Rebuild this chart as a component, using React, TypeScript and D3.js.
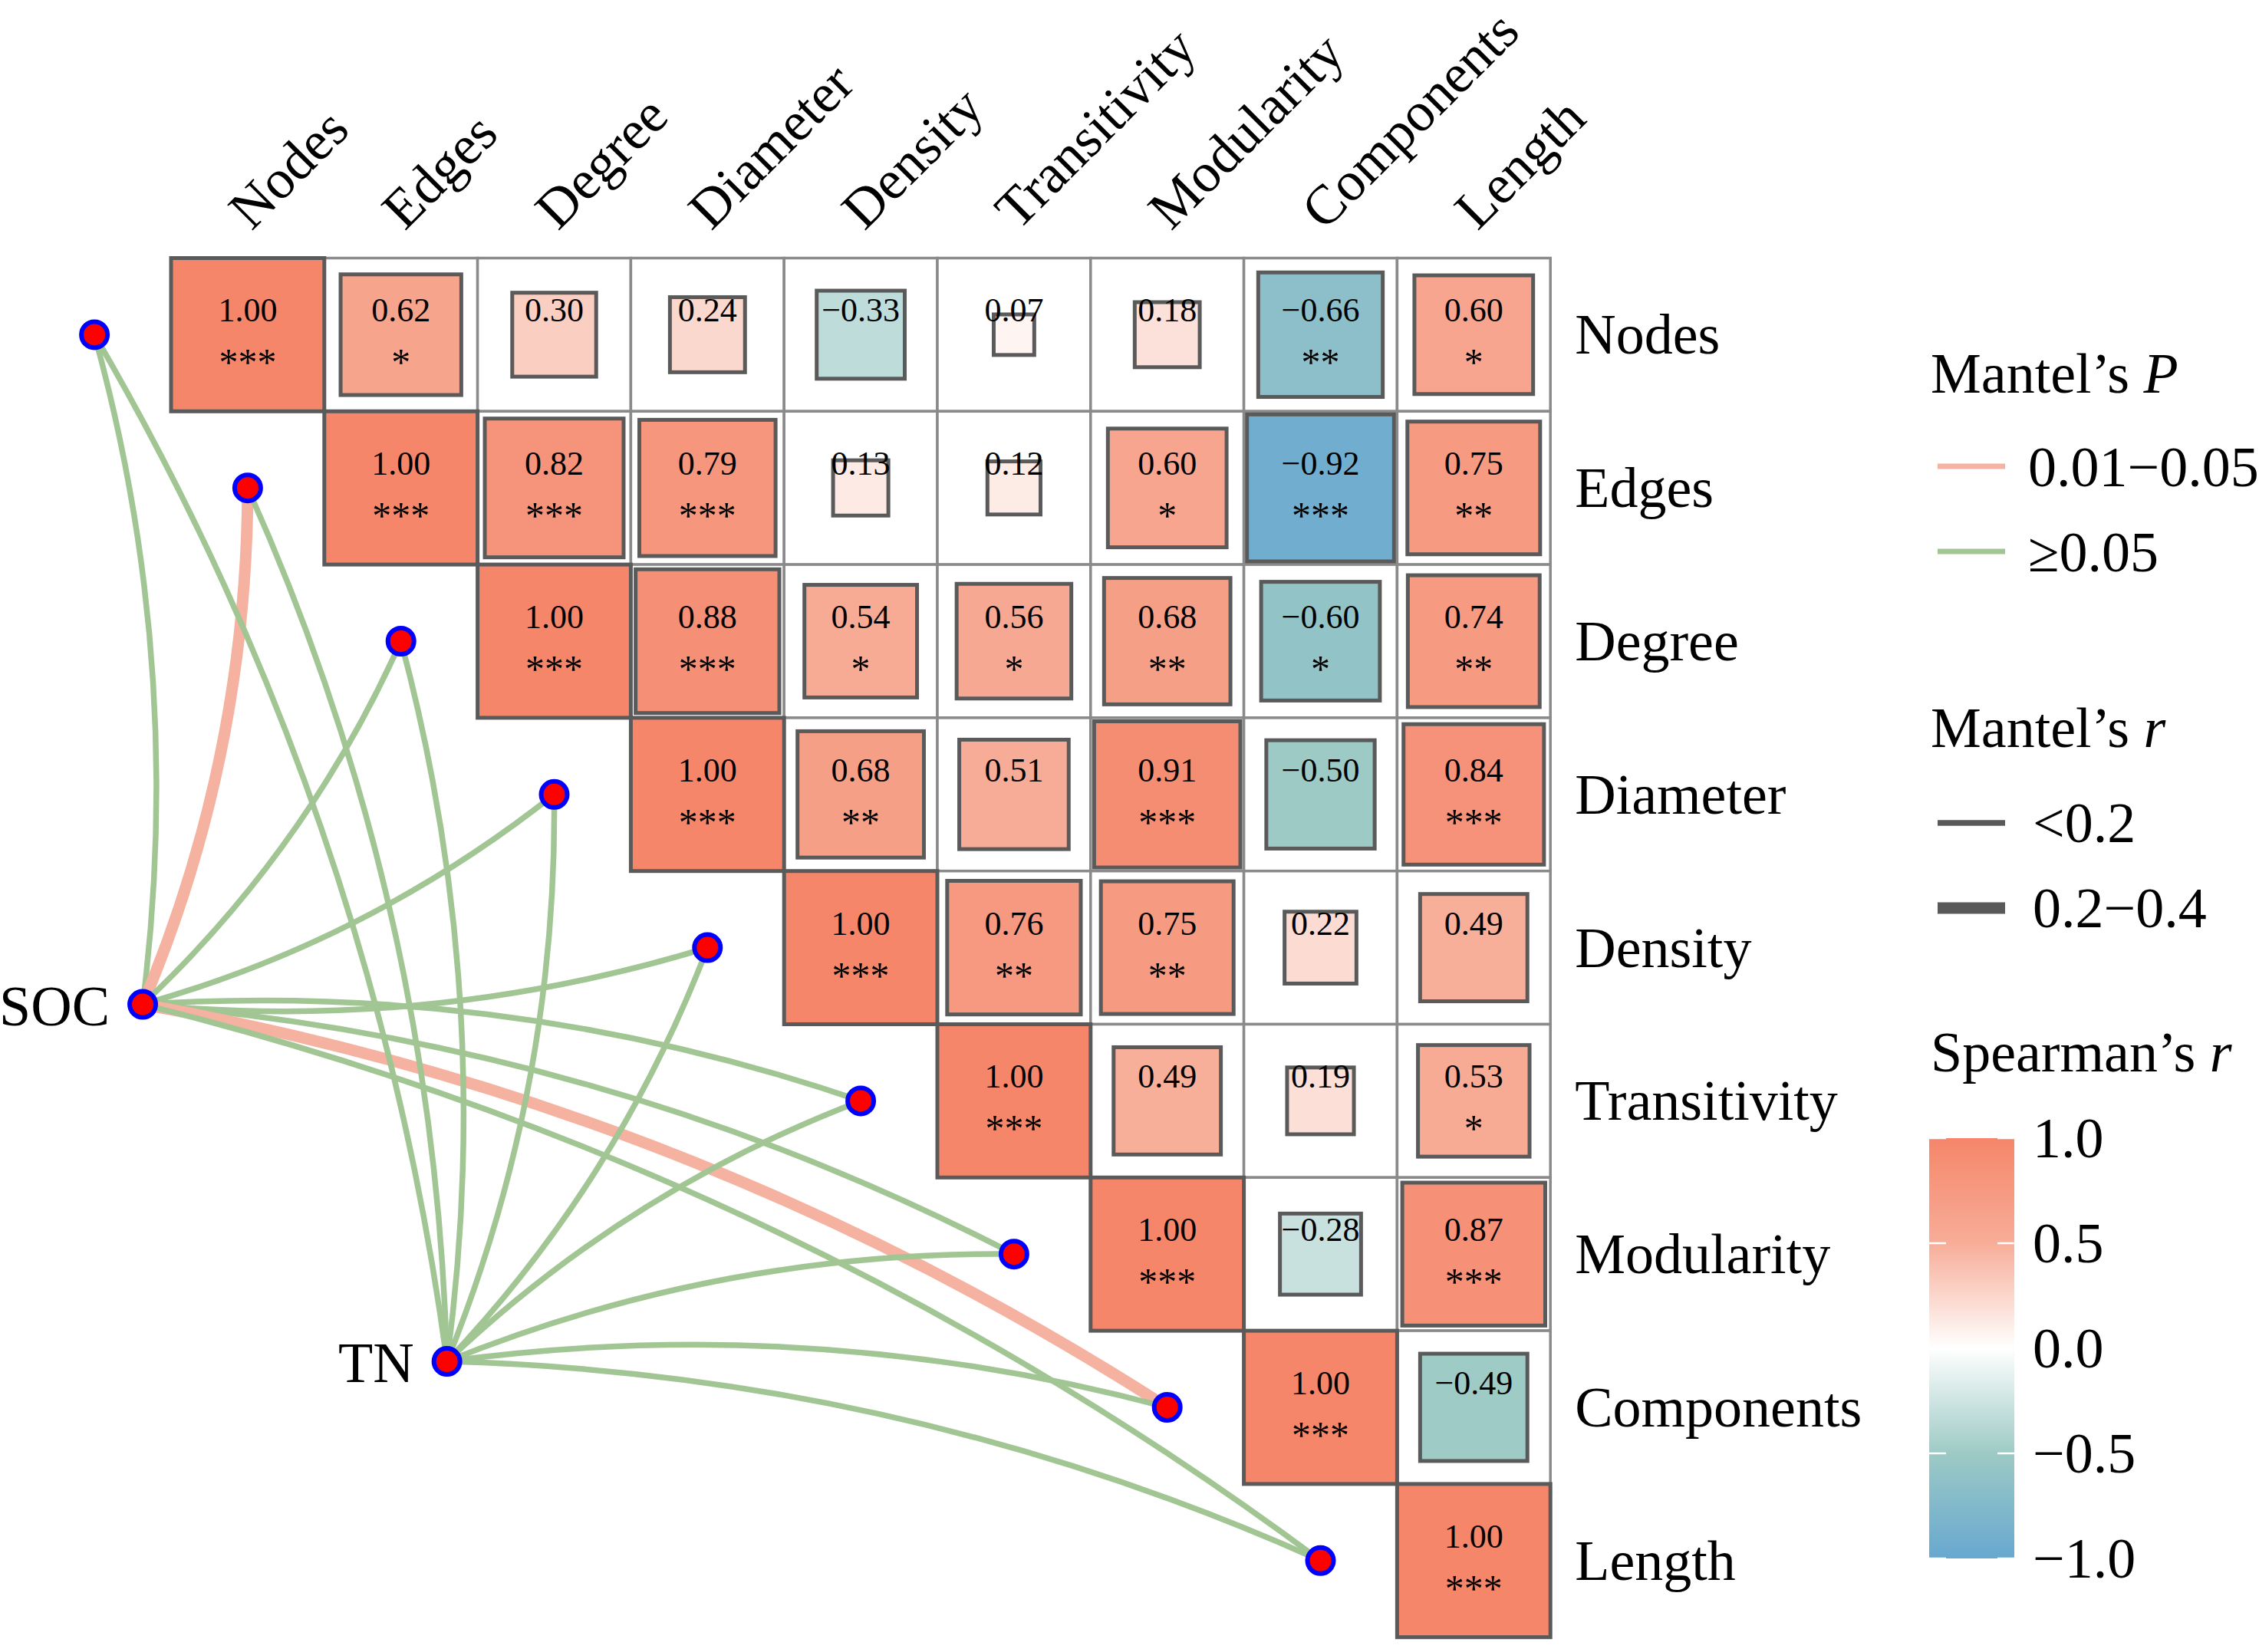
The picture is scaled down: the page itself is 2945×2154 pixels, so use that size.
import * as d3 from "d3";

// variables of the correlation matrix (rows top→bottom, columns left→right)
const VARS = ["Nodes", "Edges", "Degree", "Diameter", "Density", "Transitivity", "Modularity", "Components", "Length"];

// Spearman's r, upper triangle, each row starts at the diagonal
const CORR: number[][] = [
  [1.0, 0.62, 0.3, 0.24, -0.33, 0.07, 0.18, -0.66, 0.6],
  [1.0, 0.82, 0.79, 0.13, 0.12, 0.6, -0.92, 0.75],
  [1.0, 0.88, 0.54, 0.56, 0.68, -0.6, 0.74],
  [1.0, 0.68, 0.51, 0.91, -0.5, 0.84],
  [1.0, 0.76, 0.75, 0.22, 0.49],
  [1.0, 0.49, 0.19, 0.53],
  [1.0, -0.28, 0.87],
  [1.0, -0.49],
  [1.0],
];
const SIG: string[][] = [
  ["***", "*", "", "", "", "", "", "**", "*"],
  ["***", "***", "***", "", "", "*", "***", "**"],
  ["***", "***", "*", "*", "**", "*", "**"],
  ["***", "**", "", "***", "", "***"],
  ["***", "**", "**", "", ""],
  ["***", "", "", "*"],
  ["***", "", "***"],
  ["***", ""],
  ["***"],
];

// Mantel test links: environmental factor -> each network property
const ENV = ["SOC", "TN"];
const MANTEL_P: string[][] = [
  ["≥0.05", "0.01−0.05", "≥0.05", "≥0.05", "≥0.05", "≥0.05", "≥0.05", "0.01−0.05", "≥0.05"],
  ["≥0.05", "≥0.05", "≥0.05", "≥0.05", "≥0.05", "≥0.05", "≥0.05", "≥0.05", "≥0.05"],
];
const MANTEL_R: string[][] = [
  ["<0.2", "0.2−0.4", "<0.2", "<0.2", "<0.2", "<0.2", "<0.2", "0.2−0.4", "<0.2"],
  ["<0.2", "<0.2", "<0.2", "<0.2", "<0.2", "<0.2", "<0.2", "<0.2", "<0.2"],
];
// env node positions in grid units (column, row)
const ENV_POS: [number, number][] = [[-0.685, 4.37], [1.3, 6.7]];

const P_LEVELS = ["0.01−0.05", "≥0.05"];
const R_LEVELS = ["<0.2", "0.2−0.4"];
const CBAR_TICKS = [1.0, 0.5, 0.0, -0.5, -1.0];

const W = 2945;
const H = 2154;
const FONT = "'Liberation Serif', 'Times New Roman', serif";

export default function App() {
  const left = 223, top = 336.5, cell = 199.8;
  const x = d3.scaleLinear().domain([0, 9]).range([left, left + 9 * cell]);
  const y = d3.scaleLinear().domain([0, 9]).range([top, top + 9 * cell]);
  const side = d3.scaleSqrt().domain([0, 1]).range([0, cell]);
  const fill = d3.scaleLinear<string>()
    .domain([-1, -0.5, 0, 0.5, 1])
    .range(["#67A8D0", "#9DCAC5", "#FFFFFF", "#F7AD98", "#F5866A"])
    .interpolate(d3.interpolateRgb);
  const pColor = d3.scaleOrdinal<string, string>().domain(P_LEVELS).range(["#F5B2A0", "#A2C594"]);
  const rWidth = d3.scaleOrdinal<string, number>().domain(R_LEVELS).range([7.5, 15]);

  // colour bar
  const cbX = 2515, cbW = 111;
  const cbY = d3.scaleLinear().domain([1, -1]).range([1484, 2032]);
  const stops = d3.range(0, 1.0001, 0.05);

  const cells: JSX.Element[] = [];
  const grid: JSX.Element[] = [];
  CORR.forEach((row, i) => {
    row.forEach((r, k) => {
      const j = i + k;
      const cx = x(j + 0.5), cy = y(i + 0.5);
      grid.push(
        <rect key={`g${i}-${j}`} x={x(j)} y={y(i)} width={cell} height={cell}
          fill="white" stroke="#8A8A8A" strokeWidth={3.5} />
      );
      const s = side(Math.abs(r));
      cells.push(
        <g key={`c${i}-${j}`}>
          <rect x={cx - s / 2} y={cy - s / 2} width={s} height={s}
            fill={fill(r)} stroke="#5A5A5A" strokeWidth={5} />
          <text x={cx} y={cy - 17} textAnchor="middle" fontSize={44}>
            {(r < 0 ? "−" : "") + Math.abs(r).toFixed(2)}
          </text>
          {SIG[i][k] && (
            <text x={cx} y={cy + 53} textAnchor="middle" fontSize={50}>{SIG[i][k]}</text>
          )}
        </g>
      );
    });
  });

  // curved links
  const links: JSX.Element[] = [];
  ENV.forEach((env, e) => {
    const x0 = x(ENV_POS[e][0] + 0.5), y0 = y(ENV_POS[e][1] + 0.5);
    VARS.forEach((v, i) => {
      const x1 = x(i - 0.5), y1 = y(i + 0.5);
      const dx = x1 - x0, dy = y1 - y0;
      const sgn = i <= 4 ? 1 : -1;
      const p = d3.path();
      p.moveTo(x0, y0);
      p.quadraticCurveTo((x0 + x1) / 2 - sgn * 0.1 * dy, (y0 + y1) / 2 + sgn * 0.1 * dx, x1, y1);
      links.push(
        <path key={`l${e}-${i}`} d={p.toString()} fill="none"
          stroke={pColor(MANTEL_P[e][i])} strokeWidth={rWidth(MANTEL_R[e][i])} />
      );
    });
  });

  return (
    <svg width={W} height={H} viewBox={`0 0 ${W} ${H}`}
      style={{ position: "absolute", left: 0, top: 0, background: "white", fontFamily: FONT }}>
      <defs>
        <linearGradient id="cbar" x1="0" y1="0" x2="0" y2="1">
          {stops.map(t => (
            <stop key={t} offset={t} stopColor={fill(1 - 2 * t)} />
          ))}
        </linearGradient>
      </defs>

      {grid}
      {cells}

      {/* column labels */}
      {VARS.map((v, j) => (
        <text key={`cl${v}`} transform={`translate(${x(j + 0.5) + 5},302) rotate(-45)`} fontSize={72}>{v}</text>
      ))}
      {/* row labels */}
      {VARS.map((v, i) => (
        <text key={`rl${v}`} x={x(9) + 32} y={y(i + 0.5) + 25} fontSize={74}>{v}</text>
      ))}

      {links}

      {/* link end points */}
      {VARS.map((v, i) => (
        <circle key={`pt${v}`} cx={x(i - 0.5)} cy={y(i + 0.5)} r={17}
          fill="#FF0000" stroke="#0000FF" strokeWidth={6} />
      ))}
      {ENV.map((env, e) => (
        <g key={`env${env}`}>
          <circle cx={x(ENV_POS[e][0] + 0.5)} cy={y(ENV_POS[e][1] + 0.5)} r={17}
            fill="#FF0000" stroke="#0000FF" strokeWidth={6} />
          <text x={x(ENV_POS[e][0] + 0.5) - 43} y={y(ENV_POS[e][1] + 0.5) + 27}
            textAnchor="end" fontSize={74}>{env}</text>
        </g>
      ))}

      {/* legend: Mantel's P */}
      <text x={2517} y={512} fontSize={74}>Mantel’s <tspan fontStyle="italic">P</tspan></text>
      {P_LEVELS.map((lv, k) => (
        <g key={`pl${lv}`}>
          <line x1={2526} x2={2614} y1={608 + k * 111} y2={608 + k * 111}
            stroke={pColor(lv)} strokeWidth={7} />
          <text x={2644} y={634 + k * 111} fontSize={74}>{lv}</text>
        </g>
      ))}

      {/* legend: Mantel's r */}
      <text x={2517} y={974} fontSize={74}>Mantel’s <tspan fontStyle="italic">r</tspan></text>
      {R_LEVELS.map((lv, k) => (
        <g key={`rl${lv}`}>
          <line x1={2526} x2={2614} y1={1073 + k * 111} y2={1073 + k * 111}
            stroke="#595959" strokeWidth={rWidth(lv)} />
          <text x={2650} y={1098 + k * 111} fontSize={74}>{lv}</text>
        </g>
      ))}

      {/* legend: Spearman's r colour bar */}
      <text x={2517} y={1397} fontSize={74}>Spearman’s <tspan fontStyle="italic">r</tspan></text>
      <rect x={cbX} y={cbY(1)} width={cbW} height={cbY(-1) - cbY(1)} fill="url(#cbar)" />
      {CBAR_TICKS.map(t => (
        <g key={`cb${t}`}>
          <line x1={cbX} x2={cbX + 22} y1={cbY(t)} y2={cbY(t)} stroke="white" strokeWidth={2.5} />
          <line x1={cbX + cbW - 22} x2={cbX + cbW} y1={cbY(t)} y2={cbY(t)} stroke="white" strokeWidth={2.5} />
          <text x={2650} y={cbY(t) + 25} fontSize={74}>
            {(t < 0 ? "−" : "") + Math.abs(t).toFixed(1)}
          </text>
        </g>
      ))}
    </svg>
  );
}
